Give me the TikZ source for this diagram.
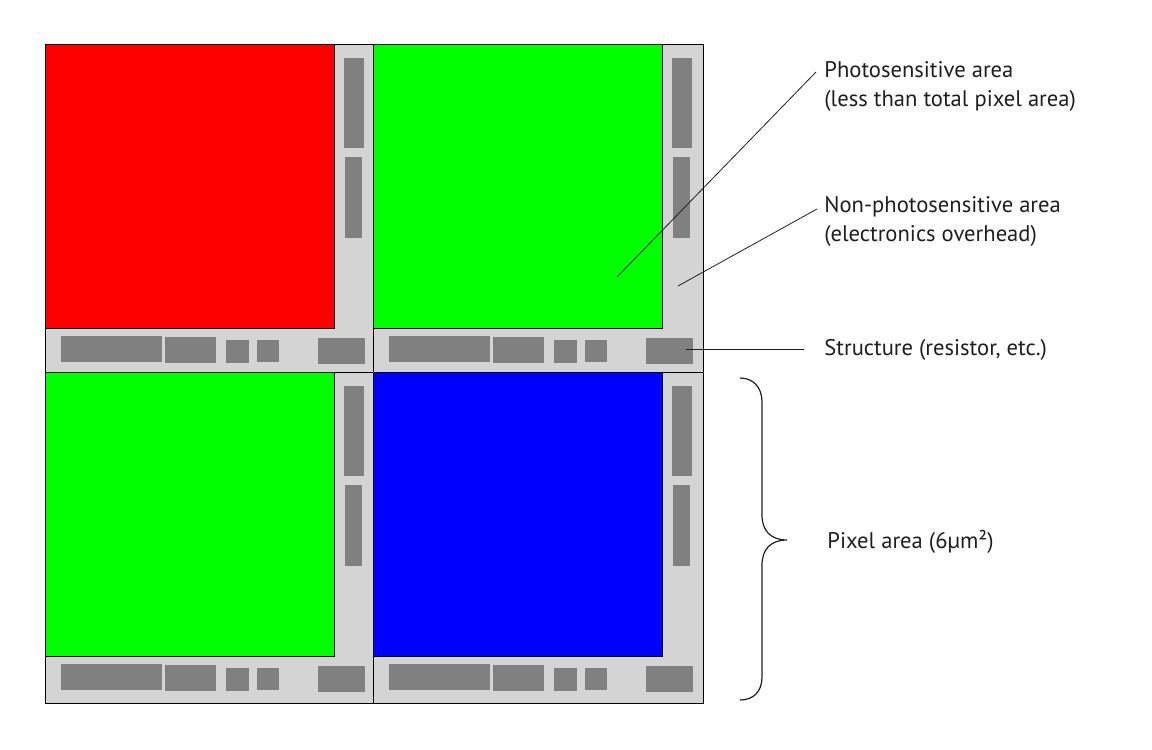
\documentclass[tikz,border=0pt]{standalone}
\usepackage{fontspec}
\setmainfont{PT Sans}
\usepackage{tikz}
\usetikzlibrary{calc}
\definecolor{pxred}{HTML}{FF0000}
\definecolor{pxgreen}{HTML}{00FF00}
\definecolor{pxblue}{HTML}{0000FF}
\definecolor{pad}{HTML}{D4D4D4}
\definecolor{circ}{HTML}{808080}
\definecolor{ink}{HTML}{1E1E1E}

\begin{document}
\begin{tikzpicture}[
  x=0.5pt, y=-0.5pt,
  cell/.style={draw=black, line width=0.5pt, fill=pad},
  sens/.style={draw=black, line width=0.5pt},
  part/.style={fill=circ},
  lead/.style={draw=ink, line width=0.4pt},
  brc/.style={draw=ink, line width=0.6pt},
  lbl/.style={font=\fontsize{11.3}{14.5}\selectfont, text=ink, align=left,
              inner sep=0pt, anchor=north west},
]
  \useasboundingbox (0,0) rectangle (1152,750);
  % four pixels: origin, size, colour
  \foreach \ox/\oy/\w/\h/\c in {45/44/328/328/pxred, 373/44/330/328/pxgreen,
                                45/372/328/331/pxgreen, 373/372/330/331/pxblue}{
    \begin{scope}[shift={(\ox,\oy)}]
      \draw[cell] (0,0) rectangle (\w,\h);
      \draw[sens, fill=\c] (0,0) rectangle (289,284);
      % electronics
      \foreach \xa/\ya/\xb/\yb in {299/14/319/104, 300/113/317/194,
                                   16/292/117/318, 120/293/171/319, 181/296/204/319,
                                   212/296/234/318, 273/294/320/320}
        \fill[part] (\xa,\ya) rectangle (\xb,\yb);
    \end{scope}
  }
  % labels
  \node[lbl] (photo) at (824,61) {Photosensitive area\\(less than total pixel area)};
  \node[lbl] (nonphoto) at (824,196) {Non-photosensitive area\\(electronics overhead)};
  \node[lbl, anchor=base west] (struct) at (824,355) {Structure (resistor, etc.)};
  \node[lbl, anchor=base west] (pixel) at (827,548) {Pixel area (6µm²)};
  \coordinate (pa) at (617,277);
  \coordinate (na) at (678,286);
  \coordinate (sa) at (686,349);
  \draw[lead] (pa) -- ($(photo.north west)+(-8,11)$);
  \draw[lead] (na) -- ($(nonphoto.north west)+(-7,13)$);
  \draw[lead] (sa) -- ($(struct.base west)+(-20,-6)$);
  % brace
  \draw[brc] (740,378) .. controls (753,378) and (762,387) .. (762,402) -- (762,515)
    .. controls (762,531) and (771,540) .. (787,540)
    .. controls (771,540) and (762,549) .. (762,565) -- (762,677)
    .. controls (762,692) and (753,700) .. (740,700);
\end{tikzpicture}
\end{document}
